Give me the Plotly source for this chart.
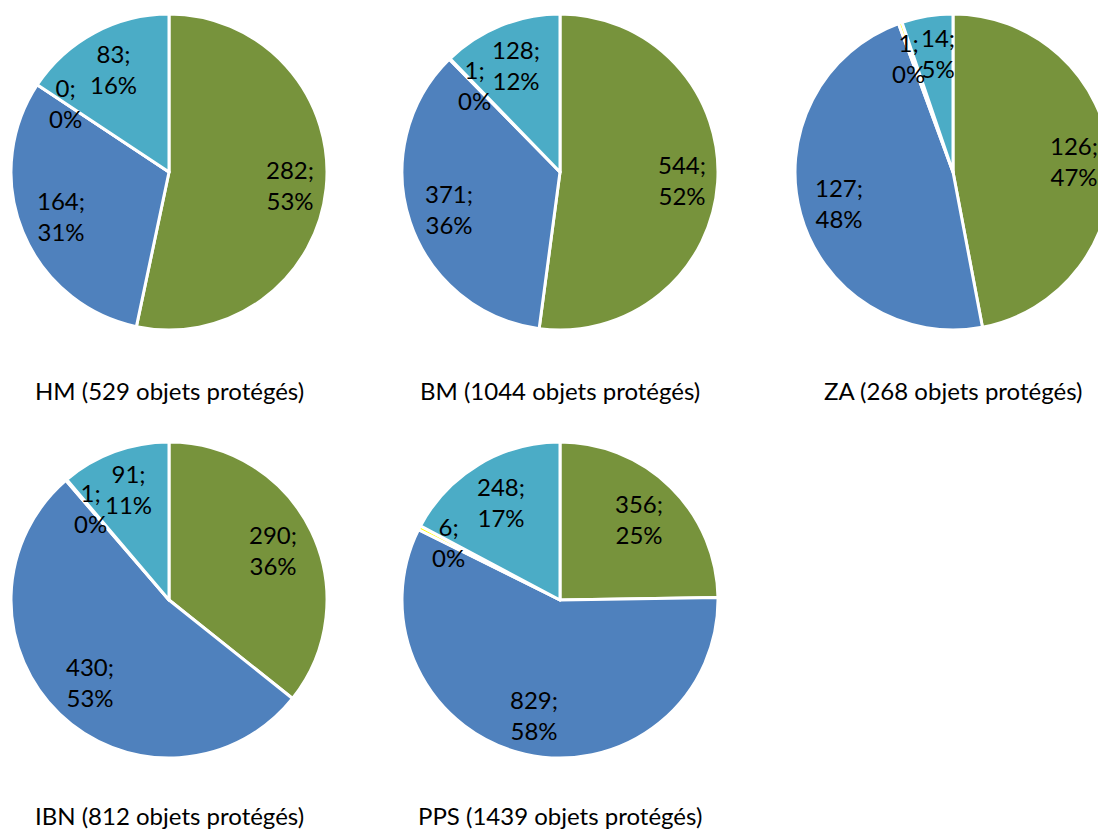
import math
import plotly.graph_objects as go

# ---- data ----
groups = ["HM", "BM", "ZA", "IBN", "PPS"]
categories = ["Catégorie A", "Catégorie B", "Catégorie C", "Catégorie D"]
values_green = [282, 544, 126, 290, 356]
values_blue = [164, 371, 127, 430, 829]
values_small = [0, 1, 1, 1, 6]
values_teal = [83, 128, 14, 91, 248]

colors = ["#77933C", "#4F81BD", "#FFFF00", "#4BACC6"]

W, H = 1120, 833
R = 158
R_FIT = 148          # outer limit for the label boxes ("best fit")
CHAR_W = 12          # approx. text width per character at 24px
HALF_H = 25          # half height of a two-line label
centers = [(169, 172), (560, 172), (953, 172), (169, 600), (560, 600)]
FONT = "Lato, 'Open Sans', sans-serif"


def pct_largest_remainder(vals):
    tot = sum(vals)
    raw = [v * 100.0 / tot for v in vals]
    fl = [int(x) for x in raw]
    rem = 100 - sum(fl)
    order = sorted(range(len(vals)), key=lambda i: raw[i] - fl[i], reverse=True)
    for i in order[:rem]:
        fl[i] += 1
    return fl


fig = go.Figure()

for k, g in enumerate(groups):
    vals = [values_green[k], values_blue[k], values_small[k], values_teal[k]]
    pcts = pct_largest_remainder(vals)
    total = sum(vals)
    cx, cy = centers[k]
    dom_x = [(cx - R) / W, (cx + R) / W]
    dom_y = [(H - cy - R) / H, (H - cy + R) / H]
    fig.add_trace(go.Pie(
        labels=categories,
        values=vals,
        textinfo="none",
        marker=dict(colors=colors, line=dict(color="#FFFFFF", width=3)),
        sort=False,
        direction="clockwise",
        rotation=0,
        domain=dict(x=dom_x, y=dom_y),
        showlegend=False,
        hoverinfo="label+value+percent",
    ))
    # data labels placed along each slice's mid-angle (clockwise from 12 o'clock)
    labels = []
    cum = 0.0
    for v, p in zip(vals, pcts):
        mid = (cum + v / 2.0) / total * 2 * math.pi
        cum += v
        l1, l2 = f"{v};", f"{p}%"
        half_w = CHAR_W * max(len(l1), len(l2)) / 2.0
        s, c = math.sin(mid), math.cos(mid)
        rc = R_FIT - (abs(s) * half_w + abs(c) * HALF_H)
        labels.append(dict(x=cx + rc * s, y=cy - rc * c, hw=half_w,
                           text=f"{l1}<br>{l2}"))
    # simple collision handling: push overlapping labels apart horizontally
    for i in range(len(labels)):
        for j in range(i + 1, len(labels)):
            a, b = labels[i], labels[j]
            if abs(a["y"] - b["y"]) < 2 * HALF_H:
                ov = (a["hw"] + b["hw"]) - abs(a["x"] - b["x"])
                if ov > 0:
                    sgn = 1 if a["x"] >= b["x"] else -1
                    a["x"] += sgn * ov / 2.0
                    b["x"] -= sgn * ov / 2.0
    for lab in labels:
        fig.add_annotation(
            x=lab["x"] / W, y=1 - lab["y"] / H, xref="paper", yref="paper",
            text=lab["text"], align="center",
            showarrow=False, xanchor="center", yanchor="middle",
            font=dict(family=FONT, size=24, color="#000000"),
        )
    ty = 390 if cy < 400 else 815
    fig.add_annotation(
        x=cx / W, y=1 - ty / H, xref="paper", yref="paper",
        text=f"{g} ({total} objets protégés)",
        showarrow=False, xanchor="center", yanchor="middle",
        font=dict(family=FONT, size=24, color="#000000"),
    )

fig.update_layout(
    width=W, height=H,
    margin=dict(l=0, r=0, t=0, b=0),
    paper_bgcolor="#FFFFFF",
    plot_bgcolor="#FFFFFF",
)

fig.write_html(
    "out.html",
    post_script="document.documentElement.style.overflow='hidden';document.body.style.overflow='hidden';document.body.style.margin='0';",
)
